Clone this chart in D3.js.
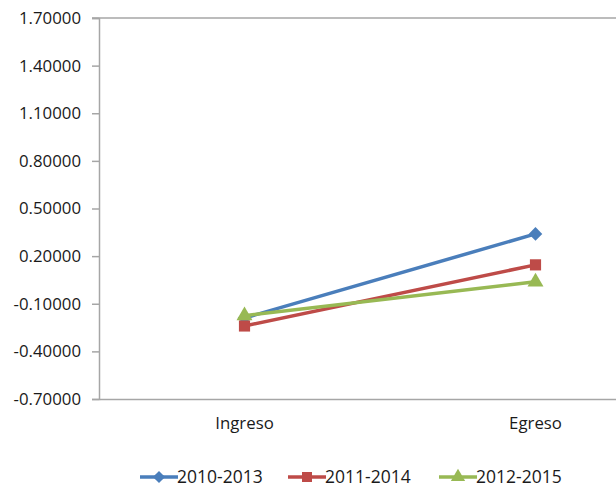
<!DOCTYPE html>
<html>
<head>
<meta charset="utf-8">
<script src="https://cdn.jsdelivr.net/npm/d3@7"></script>
<style>
  html, body { margin: 0; padding: 0; background: #fff; }
  svg { display: block; }
  text { font-family: "Open Sans", "Liberation Sans", sans-serif; fill: #1a1a1a; }
</style>
</head>
<body>
<svg id="chart" width="616" height="489"></svg>
<script>
const categories = ["Ingreso", "Egreso"];
const seriesNames = ["2010-2013", "2011-2014", "2012-2015"];
const values2010 = [-0.19, 0.34];
const values2011 = [-0.24, 0.145];
const values2012 = [-0.175, 0.038];
const yTicks = [-0.7, -0.4, -0.1, 0.2, 0.5, 0.8, 1.1, 1.4, 1.7];
const colors = ["#4a7ebb", "#be4b48", "#98b954"];
const markers = [d3.symbolSquare, d3.symbolSquare, d3.symbolTriangle];
const markerRotate = [45, 0, 0];
const markerSizes = [92, 125, 110];

const series = seriesNames.map((name, i) => ({
  name,
  values: [values2010, values2011, values2012][i],
  color: colors[i],
  marker: markers[i],
  rot: markerRotate[i],
  size: markerSizes[i]
}));

const svg = d3.select("#chart");
const plotLeft = 99, plotRight = 681, plotTop = 18, plotBottom = 399;

const x = d3.scaleBand().domain(categories).range([plotLeft, plotRight]);
const y = d3.scaleLinear().domain([-0.7, 1.7]).range([plotBottom, plotTop]);

const axisColor = "#a6a6a6";
const fmt = d => d3.format(".5f")(d).replace("\u2212", "-");

// top border line at max
svg.append("line")
  .attr("x1", plotLeft - 7).attr("x2", 616)
  .attr("y1", y(1.7)).attr("y2", y(1.7))
  .attr("stroke", axisColor).attr("stroke-width", 1.5);

// y axis
const yAxis = d3.axisLeft(y).tickValues(yTicks).tickSize(7).tickPadding(11)
  .tickFormat(fmt);
const gy = svg.append("g").attr("transform", `translate(${plotLeft},0)`).call(yAxis);
gy.select(".domain").attr("stroke", axisColor).attr("stroke-width", 1.5);
gy.selectAll(".tick line").attr("stroke", axisColor).attr("stroke-width", 1.5);
gy.selectAll(".tick text")
  .attr("font-size", 16.8)
  .style("font-family", '"Open Sans", sans-serif')
  .attr("fill", "#1a1a1a");

// x axis
const xAxis = d3.axisBottom(x).tickSize(0).tickPadding(18);
const gx = svg.append("g").attr("transform", `translate(0,${plotBottom})`).call(xAxis);
gx.select(".domain").attr("stroke", axisColor).attr("stroke-width", 1.5);
gx.selectAll(".tick text")
  .attr("font-size", 16.8)
  .style("font-family", '"Open Sans", sans-serif')
  .attr("fill", "#1a1a1a");

const cx = d => x(d) + x.bandwidth() / 2;

const line = d3.line()
  .x((d, i) => cx(categories[i]))
  .y(d => y(d));

series.forEach(s => {
  svg.append("path")
    .datum(s.values)
    .attr("d", line)
    .attr("fill", "none")
    .attr("stroke", s.color)
    .attr("stroke-width", 3.5)
    .attr("stroke-linecap", "round");
  svg.selectAll(null)
    .data(s.values)
    .enter()
    .append("path")
    .attr("d", d3.symbol().type(s.marker).size(s.size))
    .attr("transform", (d, i) => `translate(${cx(categories[i])},${y(d)}) rotate(${s.rot})`)
    .attr("fill", s.color);
});

// legend
const legendY = 477;
const legendX = [140, 288, 439];
const legend = svg.append("g");
series.forEach((s, i) => {
  const g = legend.append("g").attr("transform", `translate(${legendX[i]},${legendY})`);
  g.append("line").attr("x1", 0).attr("x2", 38).attr("y1", 0).attr("y2", 0)
    .attr("stroke", s.color).attr("stroke-width", 3.5);
  g.append("path").attr("d", d3.symbol().type(s.marker).size(s.size * 0.8))
    .attr("transform", `translate(19,0) rotate(${s.rot})`).attr("fill", s.color);
  g.append("text").attr("x", 37).attr("y", 0).attr("dy", "0.35em")
    .attr("font-size", 17.5).text(s.name);
});
</script>
</body>
</html>
